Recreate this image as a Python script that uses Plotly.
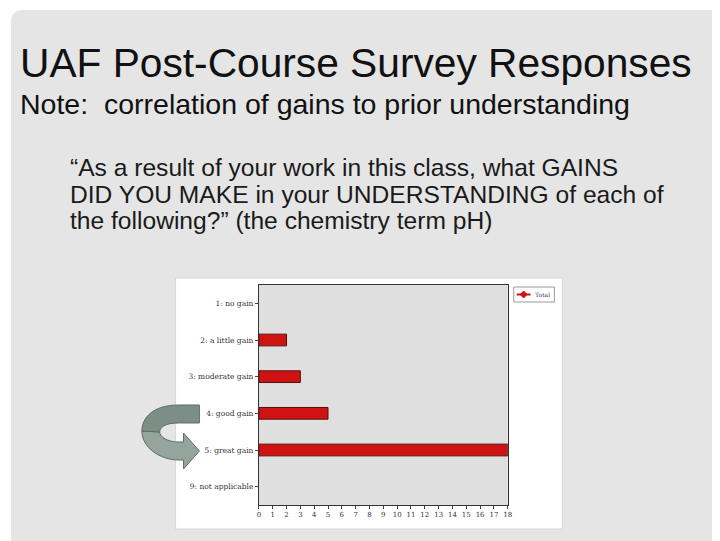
import plotly.graph_objects as go

# the page body has an 8px margin; the figure is sized to fill the rest of the window
OFF = 8
W, H = 720 - OFF, 541 - OFF

categories = ["1: no gain", "2: a little gain", "3: moderate gain",
              "4: good gain", "5: great gain", "9: not applicable"]
totals = [0, 2, 3, 5, 18, 0]
x_ticks = list(range(0, 19))
series_name = "Total"

title_text = "UAF Post-Course Survey Responses"
subtitle_text = "Note:  correlation of gains to prior understanding"
quote_lines = [
    "\u201cAs a result of your work in this class, what GAINS",
    "DID YOU MAKE in your UNDERSTANDING of each of",
    "the following?\u201d (the chemistry term pH)",
]


def px(x):
    return (x - OFF) / W


def py(y):
    return 1 - (y - OFF) / H


def path(cmds):
    out = []
    for c in cmds:
        if isinstance(c, str):
            out.append(c)
        else:
            out.append(f"{px(c[0]):.5f},{py(c[1]):.5f}")
    return " ".join(out)


RED = "#cf1212"

fig = go.Figure()
fig.add_trace(go.Bar(
    x=totals, y=categories, orientation="h", name=series_name,
    marker=dict(color=RED,
                line=dict(color="#5a1010",
                          width=[1 if v > 0 else 0 for v in totals])),
    width=0.32, showlegend=False,
))

shapes = [
    # slide background with rounded top-left corner
    dict(type="path", xref="paper", yref="paper", layer="below",
         path=path(["M", (9, 545), "L", (9, 22), "Q", (9, 10), (21, 10),
                    "L", (724, 10), "L", (724, 545), "Z"]),
         fillcolor="#e5e5e5", line=dict(width=0)),
    # white chart box
    dict(type="rect", xref="paper", yref="paper", layer="below",
         x0=px(175), x1=px(565), y0=py(529), y1=py(278),
         fillcolor="#ffffff", line=dict(color="#d6d6d6", width=1)),
    # plot area background
    dict(type="rect", xref="paper", yref="paper", layer="below",
         x0=px(259), x1=px(510), y0=py(505), y1=py(285),
         fillcolor="#dfdfdf", line=dict(width=0)),
    # legend box
    dict(type="rect", xref="paper", yref="paper", layer="above",
         x0=px(516), x1=px(557), y0=py(302), y1=py(287),
         fillcolor="#ffffff", line=dict(color="#9a9a9a", width=1)),
    # legend line sample
    dict(type="line", xref="paper", yref="paper", layer="above",
         x0=px(519), x1=px(533), y0=py(294.5), y1=py(294.5),
         line=dict(color=RED, width=2)),
    # legend diamond marker
    dict(type="path", xref="paper", yref="paper", layer="above",
         path=path(["M", (526, 291), "L", (529.5, 294.5), "L", (526, 298),
                    "L", (522.5, 294.5), "Z"]),
         fillcolor=RED, line=dict(color=RED, width=1)),
    # curved arrow: lower band with head (lighter)
    dict(type="path", xref="paper", yref="paper", layer="above",
         path=path(["M", (141, 431),
                    "C", (141, 448), (160, 460), (178, 460),
                    "L", (183, 460), "L", (183, 469), "L", (199, 451),
                    "L", (183, 433), "L", (183, 442), "L", (178, 442),
                    "C", (167, 442), (159, 437), (159, 432), "Z"]),
         fillcolor="#93a59c", line=dict(color="#5d6e66", width=1)),
    # curved arrow: upper band (darker)
    dict(type="path", xref="paper", yref="paper", layer="above",
         path=path(["M", (199, 405), "L", (178, 405),
                    "C", (152, 405), (141, 418), (141, 431),
                    "L", (159, 432),
                    "C", (159, 426), (167, 423), (178, 423),
                    "L", (199, 423), "Z"]),
         fillcolor="#7c8f86", line=dict(color="#5d6e66", width=1)),
]

FONT = "Arial, Liberation Sans, sans-serif"
annotations = [
    dict(text=title_text, x=px(16), y=py(63), xref="paper", yref="paper",
         xanchor="left", yanchor="middle", showarrow=False,
         font=dict(family=FONT, size=40.7, color="#111111")),
    dict(text=subtitle_text, x=px(16), y=py(104), xref="paper", yref="paper",
         xanchor="left", yanchor="middle", showarrow=False,
         font=dict(family=FONT, size=28.5, color="#111111")),
    dict(text=series_name, x=px(545), y=py(294.5), xref="paper", yref="paper",
         xanchor="center", yanchor="middle", showarrow=False,
         font=dict(family="DejaVu Serif", size=6, color="#444444")),
]
for i, line in enumerate(quote_lines):
    annotations.append(dict(
        text=line, x=px(66), y=py(167 + 27 * i), xref="paper", yref="paper",
        xanchor="left", yanchor="middle", showarrow=False,
        font=dict(family=FONT, size=24.6, color="#1a1a1a")))

TICKFONT = dict(family="DejaVu Serif", size=7, color="#333333")
fig.update_layout(
    width=W, height=H,
    margin=dict(l=0, r=0, t=0, b=0),
    paper_bgcolor="#ffffff",
    plot_bgcolor="rgba(0,0,0,0)",
    shapes=shapes,
    annotations=annotations,
    showlegend=False,
    xaxis=dict(domain=[px(259), px(510)], range=[0, 18],
               tickmode="array", tickvals=x_ticks,
               ticks="outside", ticklen=3, tickcolor="#444444",
               showgrid=False, zeroline=False,
               showline=True, mirror=True, linecolor="#333333", linewidth=1,
               tickfont=TICKFONT),
    yaxis=dict(domain=[py(505), py(285)], type="category",
               categoryorder="array", categoryarray=categories,
               autorange="reversed",
               ticks="outside", ticklen=3, tickcolor="#444444",
               showgrid=False, zeroline=False,
               showline=True, mirror=True, linecolor="#333333", linewidth=1,
               tickfont=dict(family="DejaVu Serif", size=7.5, color="#333333")),
)

fig.write_html("out.html")
